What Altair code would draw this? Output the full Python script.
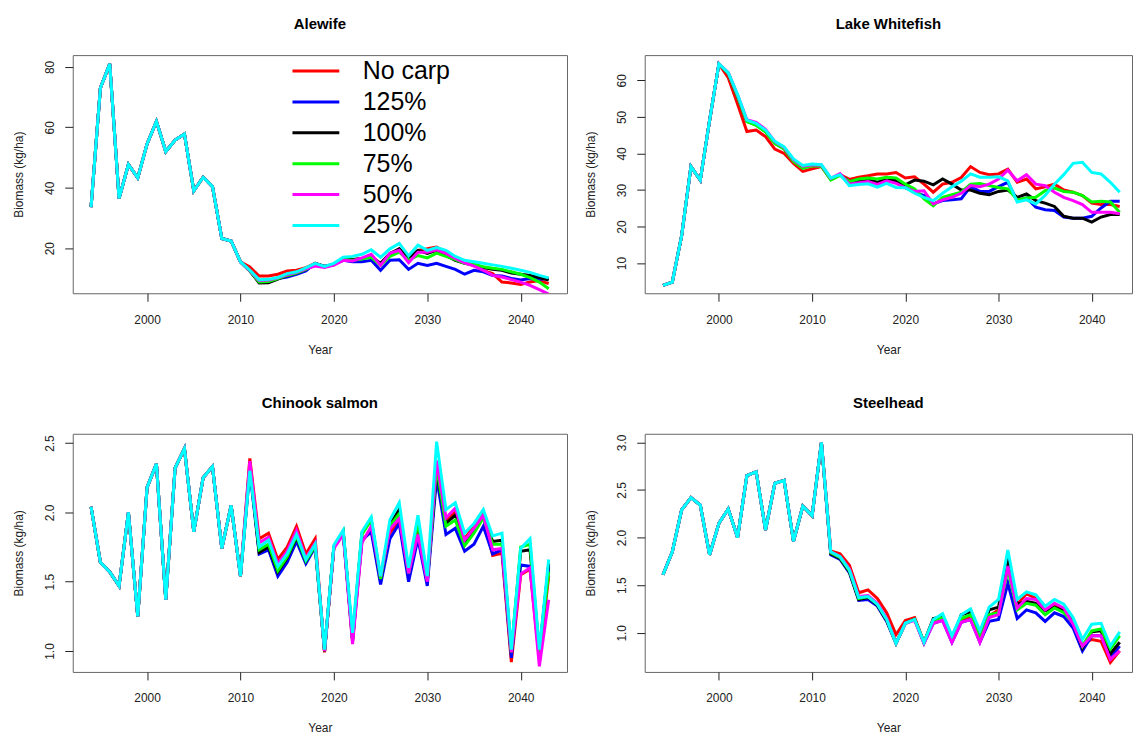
import altair as alt
import pandas as pd

YEARS = list(range(1994, 2044))
SERIES = ["No carp", "125%", "100%", "75%", "50%", "25%"]
COLORS = ["#FF0000", "#0000FF", "#000000", "#00FF00", "#FF00FF", "#00FFFF"]

# ---------------- Alewife ----------------
ale_common = [33.6, 73.0, 81.0, 36.5, 47.7, 43.3, 54.5, 62.0, 52.0, 55.8, 57.8, 39.0,
              43.5, 40.4, 23.2, 22.4, 15.5]  # 1994-2010
ale_red = [13.8, 10.8, 10.8, 11.4, 12.5, 12.7, 13.6, 15.0, 14.0, 14.5, 16.3, 16.0, 16.6,
           17.3, 14.5, 17.6, 19.8, 16.0, 19.3, 19.8, 20.4, 18.7, 16.6, 15.2, 14.4, 12.7,
           11.6, 8.8, 8.5, 8.0, 8.8, 9.3, 8.3]
ale_blue = [12.5, 9.0, 9.2, 10.0, 10.5, 11.4, 12.5, 15.0, 14.0, 14.7, 16.0, 15.5, 15.5,
            16.0, 12.7, 16.0, 16.2, 13.0, 15.0, 14.3, 15.0, 14.0, 13.0, 11.4, 12.7, 12.2,
            11.0, 10.8, 10.0, 9.5, 10.0, 9.7, 10.0]
ale_black = [12.5, 8.5, 8.6, 9.8, 11.0, 11.8, 13.0, 15.0, 14.0, 14.7, 16.6, 16.3, 16.6,
             17.3, 15.0, 18.3, 19.8, 16.6, 19.3, 18.3, 19.3, 17.6, 16.0, 15.0, 14.4, 13.6,
             13.0, 12.7, 11.8, 11.4, 11.0, 10.3, 9.5]
ale_green = [12.5, 8.8, 9.0, 10.0, 11.0, 11.8, 13.0, 14.8, 13.8, 14.5, 16.3, 16.0, 16.4,
             17.0, 14.4, 17.3, 18.7, 16.0, 17.6, 16.8, 18.4, 17.3, 16.2, 15.0, 14.7, 13.9,
             13.4, 13.0, 12.2, 11.4, 10.3, 8.8, 6.6]
ale_magenta = [12.6, 9.3, 9.5, 10.2, 11.3, 12.0, 13.2, 14.1, 13.6, 14.4, 16.0, 15.8, 16.8,
               18.0, 14.4, 18.3, 19.3, 15.2, 18.7, 18.7, 19.5, 18.3, 16.6, 15.2, 14.1, 12.7,
               11.0, 10.5, 9.6, 8.8, 7.7, 6.3, 4.8]
ale_cyan = [12.75, 9.6, 9.7, 10.3, 11.6, 12.2, 13.5, 15.0, 14.0, 15.0, 17.0, 17.3, 18.0,
            19.5, 17.0, 19.8, 21.6, 17.5, 21.0, 19.3, 20.2, 19.3, 17.3, 16.0, 15.5, 15.0,
            14.5, 14.0, 13.4, 12.7, 12.0, 11.0, 10.2]

# ---------------- Lake Whitefish ----------------
lwf_common = [3.9, 4.8, 17.5, 36.4, 32.7, 49.0, 64.5]  # 1994-2000
lwf_red = [60.7, 53.5, 46.0, 46.4, 44.6, 41.2, 40.0, 37.3, 35.1, 35.8, 36.4, 33.0, 34.2, 32.9,
           33.5, 33.9, 34.4, 34.4, 34.8, 33.3, 33.6, 31.6, 29.4, 31.6, 32.1, 33.4, 36.4, 34.8,
           34.2, 34.4, 35.7, 32.1, 33.0, 30.3, 30.9, 31.6, 30.0, 29.4, 28.5, 26.4, 26.0, 26.0,
           25.5]
lwf_blue = [62.0, 55.8, 48.9, 48.0, 46.2, 43.0, 41.5, 38.2, 36.4, 36.9, 36.8, 33.2, 34.2, 31.8,
            32.2, 32.5, 32.0, 32.7, 32.1, 30.7, 29.4, 28.5, 26.2, 27.1, 27.3, 27.6, 30.9, 29.6,
            29.6, 30.9, 32.1, 27.1, 27.8, 25.3, 24.6, 24.4, 22.6, 22.3, 22.3, 22.8, 25.1, 26.9,
            26.9]
lwf_black = [61.9, 55.6, 48.8, 47.8, 46.0, 42.8, 41.3, 38.0, 36.2, 36.8, 36.6, 33.0, 34.2, 32.3,
             32.6, 32.7, 32.1, 33.0, 32.6, 31.4, 32.7, 32.4, 31.4, 33.0, 31.6, 30.0, 30.0, 29.1,
             28.7, 29.6, 30.0, 28.0, 28.9, 27.1, 26.4, 25.5, 22.8, 22.3, 22.3, 21.2, 22.6, 23.3,
             23.3]
lwf_green = [61.9, 55.5, 48.7, 47.7, 45.9, 42.7, 41.2, 37.8, 35.9, 36.6, 36.5, 32.7, 34.0, 32.3,
             33.0, 33.3, 33.0, 33.5, 33.3, 31.6, 30.3, 27.6, 25.7, 28.0, 28.7, 29.4, 31.6, 31.8,
             31.2, 30.7, 30.3, 27.3, 27.8, 28.0, 29.8, 30.5, 29.6, 29.4, 28.5, 26.7, 26.9, 26.7,
             23.9]
lwf_magenta = [62.1, 56.0, 49.2, 48.5, 46.6, 43.2, 41.6, 38.3, 36.5, 36.9, 36.8, 33.2, 34.5,
               31.6, 32.0, 32.3, 31.5, 32.5, 31.8, 30.6, 29.6, 29.8, 26.2, 27.3, 28.0, 29.1,
               31.2, 30.9, 31.6, 33.0, 35.4, 32.5, 34.2, 31.6, 31.2, 29.4, 28.0, 27.1, 26.0,
               23.9, 23.9, 23.9, 23.5]
lwf_cyan = [62.1, 56.2, 49.1, 48.2, 46.4, 43.3, 41.8, 38.5, 36.7, 37.1, 36.9, 33.3, 34.2, 31.2,
            31.5, 31.7, 30.8, 31.8, 30.7, 30.6, 29.1, 28.0, 27.1, 29.1, 30.9, 32.4, 34.4, 33.5,
            33.5, 33.6, 32.5, 26.7, 27.3, 26.2, 28.5, 31.6, 34.2, 37.3, 37.6, 34.8, 34.4, 32.1,
            29.4]

# ---------------- Chinook salmon ----------------
chk_common = [2.04, 1.64, 1.57, 1.47, 2.00, 1.25, 2.18, 2.35, 1.37, 2.32, 2.46, 1.86, 2.25,
              2.33, 1.74, 2.05, 1.54]  # 1994-2010
chk_red = [2.39, 1.81, 1.85, 1.66, 1.75, 1.90, 1.70, 1.81, 0.99, 1.75, 1.86, 1.07, 1.79, 1.88,
           1.51, 1.85, 1.945, 1.54, 1.87, 1.50, 2.35, 1.945, 2.00, 1.81, 1.90, 1.99, 1.69,
           1.705, 0.92, 1.55, 1.59, 0.94, 1.54]
chk_blue = [2.30, 1.70, 1.73, 1.54, 1.64, 1.79, 1.63, 1.75, 1.00, 1.75, 1.85, 1.08, 1.80, 1.86,
            1.48, 1.81, 1.92, 1.50, 1.81, 1.47, 2.25, 1.84, 1.885, 1.72, 1.77, 1.90, 1.70,
            1.73, 0.95, 1.62, 1.61, 0.99, 1.61]
chk_black = [2.33, 1.71, 1.75, 1.57, 1.67, 1.82, 1.65, 1.76, 1.00, 1.75, 1.86, 1.08, 1.85,
             1.945, 1.52, 1.91, 2.02, 1.57, 1.945, 1.51, 2.30, 1.92, 1.98, 1.79, 1.87, 1.97,
             1.79, 1.80, 0.99, 1.72, 1.73, 0.99, 1.63]
chk_green = [2.34, 1.73, 1.77, 1.58, 1.68, 1.83, 1.65, 1.76, 1.00, 1.75, 1.86, 1.08, 1.84,
             1.945, 1.52, 1.90, 1.99, 1.56, 1.93, 1.51, 2.33, 1.90, 1.945, 1.76, 1.85, 1.96,
             1.77, 1.77, 0.99, 1.75, 1.77, 0.99, 1.57]
chk_magenta = [2.37, 1.78, 1.82, 1.63, 1.72, 1.87, 1.67, 1.78, 1.00, 1.74, 1.84, 1.05, 1.78,
               1.90, 1.54, 1.88, 1.955, 1.56, 1.84, 1.50, 2.375, 1.96, 2.03, 1.80, 1.885, 1.98,
               1.73, 1.74, 0.99, 1.555, 1.60, 0.89, 1.37]
chk_cyan = [2.30, 1.75, 1.80, 1.61, 1.70, 1.84, 1.66, 1.77, 1.01, 1.765, 1.873, 1.13, 1.86,
            1.965, 1.54, 1.945, 2.07, 1.60, 1.98, 1.54, 2.51, 2.02, 2.07, 1.85, 1.92, 2.02,
            1.83, 1.85, 1.01, 1.74, 1.81, 1.01, 1.66]

# ---------------- Steelhead ----------------
stl_common = [1.61, 1.85, 2.29, 2.42, 2.34, 1.82, 2.15, 2.30, 2.00, 2.65, 2.69, 2.08, 2.57,
              2.60, 1.96, 2.33, 2.23, 3.00]  # 1994-2011
stl_red = [1.86, 1.83, 1.71, 1.42, 1.45, 1.36, 1.21, 0.98, 1.13, 1.16, 0.90, 1.12, 1.15, 0.91,
           1.13, 1.17, 0.92, 1.18, 1.24, 1.73, 1.30, 1.41, 1.36, 1.24, 1.29, 1.24, 1.10, 0.88,
           0.93, 0.91, 0.69, 0.81]
stl_blue = [1.82, 1.77, 1.63, 1.34, 1.35, 1.28, 1.12, 0.89, 1.10, 1.14, 0.89, 1.10, 1.13, 0.90,
            1.11, 1.14, 0.90, 1.12, 1.14, 1.52, 1.15, 1.24, 1.21, 1.12, 1.21, 1.17, 1.05, 0.81,
            0.97, 0.97, 0.74, 0.86]
stl_black = [1.83, 1.78, 1.64, 1.35, 1.37, 1.29, 1.13, 0.89, 1.10, 1.14, 0.90, 1.15, 1.17,
             0.93, 1.19, 1.22, 0.98, 1.24, 1.27, 1.78, 1.30, 1.33, 1.31, 1.23, 1.27, 1.23, 1.12,
             0.84, 1.01, 1.02, 0.78, 0.90]
stl_green = [1.84, 1.79, 1.65, 1.36, 1.38, 1.30, 1.14, 0.89, 1.10, 1.14, 0.90, 1.13, 1.16,
             0.92, 1.15, 1.19, 0.94, 1.19, 1.21, 1.66, 1.24, 1.31, 1.29, 1.19, 1.26, 1.21, 1.11,
             0.86, 1.02, 1.04, 0.83, 0.97]
stl_magenta = [1.85, 1.80, 1.67, 1.38, 1.39, 1.31, 1.15, 0.89, 1.10, 1.13, 0.89, 1.10, 1.13,
               0.90, 1.11, 1.14, 0.90, 1.16, 1.19, 1.70, 1.26, 1.36, 1.35, 1.24, 1.31, 1.26,
               1.09, 0.86, 0.97, 0.97, 0.72, 0.81]
stl_cyan = [1.85, 1.80, 1.66, 1.37, 1.38, 1.30, 1.14, 0.89, 1.10, 1.14, 0.90, 1.14, 1.20, 0.97,
            1.19, 1.25, 1.02, 1.27, 1.35, 1.87, 1.35, 1.43, 1.40, 1.28, 1.35, 1.30, 1.16, 0.93,
            1.09, 1.10, 0.86, 1.01]

X_TICKS = [2000, 2010, 2020, 2030, 2040]
FONT = "Liberation Sans"


def frame(common, tails):
    rows = []
    for name, tail in zip(SERIES, tails):
        vals = common + tail
        for yr, v in zip(YEARS, vals):
            rows.append({"Year": yr, "Biomass": v, "Scenario": name})
    return pd.DataFrame(rows)


def panel(title, df, ydomain, yticks, yfmt, xdomain, width, height=239):
    base = alt.Chart(df)
    xaxis = alt.Axis(values=X_TICKS, format="d", title="Year", domain=False, grid=False,
                     tickSize=8, tickColor="#222", labelPadding=13, labelFontSize=12,
                     labelFont=FONT, labelColor="#222", titleFont=FONT, titleFontSize=12,
                     titleFontWeight="normal", titleColor="#222", titleY=56,
                     titleBaseline="middle", labelFlush=False)
    yaxis = alt.Axis(values=yticks, format=yfmt, title="Biomass (kg/ha)", domain=False,
                     grid=False, tickSize=8, tickColor="#222", labelAngle=270,
                     labelAlign="center", labelBaseline="bottom", labelPadding=8,
                     labelFontSize=12, labelFont=FONT, labelColor="#222", titleFont=FONT,
                     titleFontSize=12, titleFontWeight="normal", titleColor="#222",
                     titleAngle=270, titleX=-54, titleY=height / 2, titleAlign="center",
                     titleBaseline="middle")
    layers = []
    for name in SERIES:
        layers.append(
            base.transform_filter(alt.datum.Scenario == name)
            .mark_line(clip=True, strokeWidth=3)
            .encode(
                x=alt.X("Year:Q", scale=alt.Scale(domain=xdomain, nice=False, zero=False),
                        axis=xaxis),
                y=alt.Y("Biomass:Q", scale=alt.Scale(domain=ydomain, nice=False, zero=False),
                        axis=yaxis),
                color=alt.Color("Scenario:N",
                                scale=alt.Scale(domain=SERIES, range=COLORS),
                                legend=alt.Legend(title=None)),
            )
        )
    return alt.layer(*layers).properties(
        width=width, height=height,
        title=alt.TitleParams(title, fontSize=15, fontWeight="bold", font=FONT,
                              color="#000", anchor="middle", frame="group",
                              baseline="middle", offset=16),
    )


XD_L = [1992.04, 2044.96]
XD_R = [1992.04, 2044.32]

ale = panel("Alewife", frame(ale_common, [ale_red, ale_blue, ale_black, ale_green,
                                          ale_magenta, ale_cyan]),
            [5.1, 83.9], [20, 40, 60, 80], "d", XD_L, 496)
lwf = panel("Lake Whitefish", frame(lwf_common, [lwf_red, lwf_blue, lwf_black, lwf_green,
                                                 lwf_magenta, lwf_cyan]),
            [1.75, 66.9], [10, 20, 30, 40, 50, 60], "d", XD_R, 489)
chk = panel("Chinook salmon", frame(chk_common, [chk_red, chk_blue, chk_black, chk_green,
                                                 chk_magenta, chk_cyan]),
            [0.849, 2.567], [1.0, 1.5, 2.0, 2.5], ".1f", XD_L, 496)
stl = panel("Steelhead", frame(stl_common, [stl_red, stl_blue, stl_black, stl_green,
                                            stl_magenta, stl_cyan]),
            [0.589, 3.09], [1.0, 1.5, 2.0, 2.5, 3.0], ".1f", XD_R, 489)

top = alt.hconcat(ale, lwf, spacing=16)
bottom = alt.hconcat(chk, stl, spacing=16)
chart = (
    alt.vconcat(top, bottom, spacing=39)
    .properties(padding={"left": 12, "top": 15, "right": 0, "bottom": 0},
                background="white")
    .configure_view(stroke="#666", strokeWidth=1)
    .configure_legend(orient="none", legendX=219, legendY=2, symbolType="stroke",
                      symbolStrokeWidth=3, symbolSize=2209, labelFontSize=25,
                      labelFont=FONT, labelColor="#000", labelOffset=22, clipHeight=28,
                      rowPadding=3, padding=0, labelLimit=300)
)

chart.save("out.html", embed_options={"renderer": "svg", "actions": False})
